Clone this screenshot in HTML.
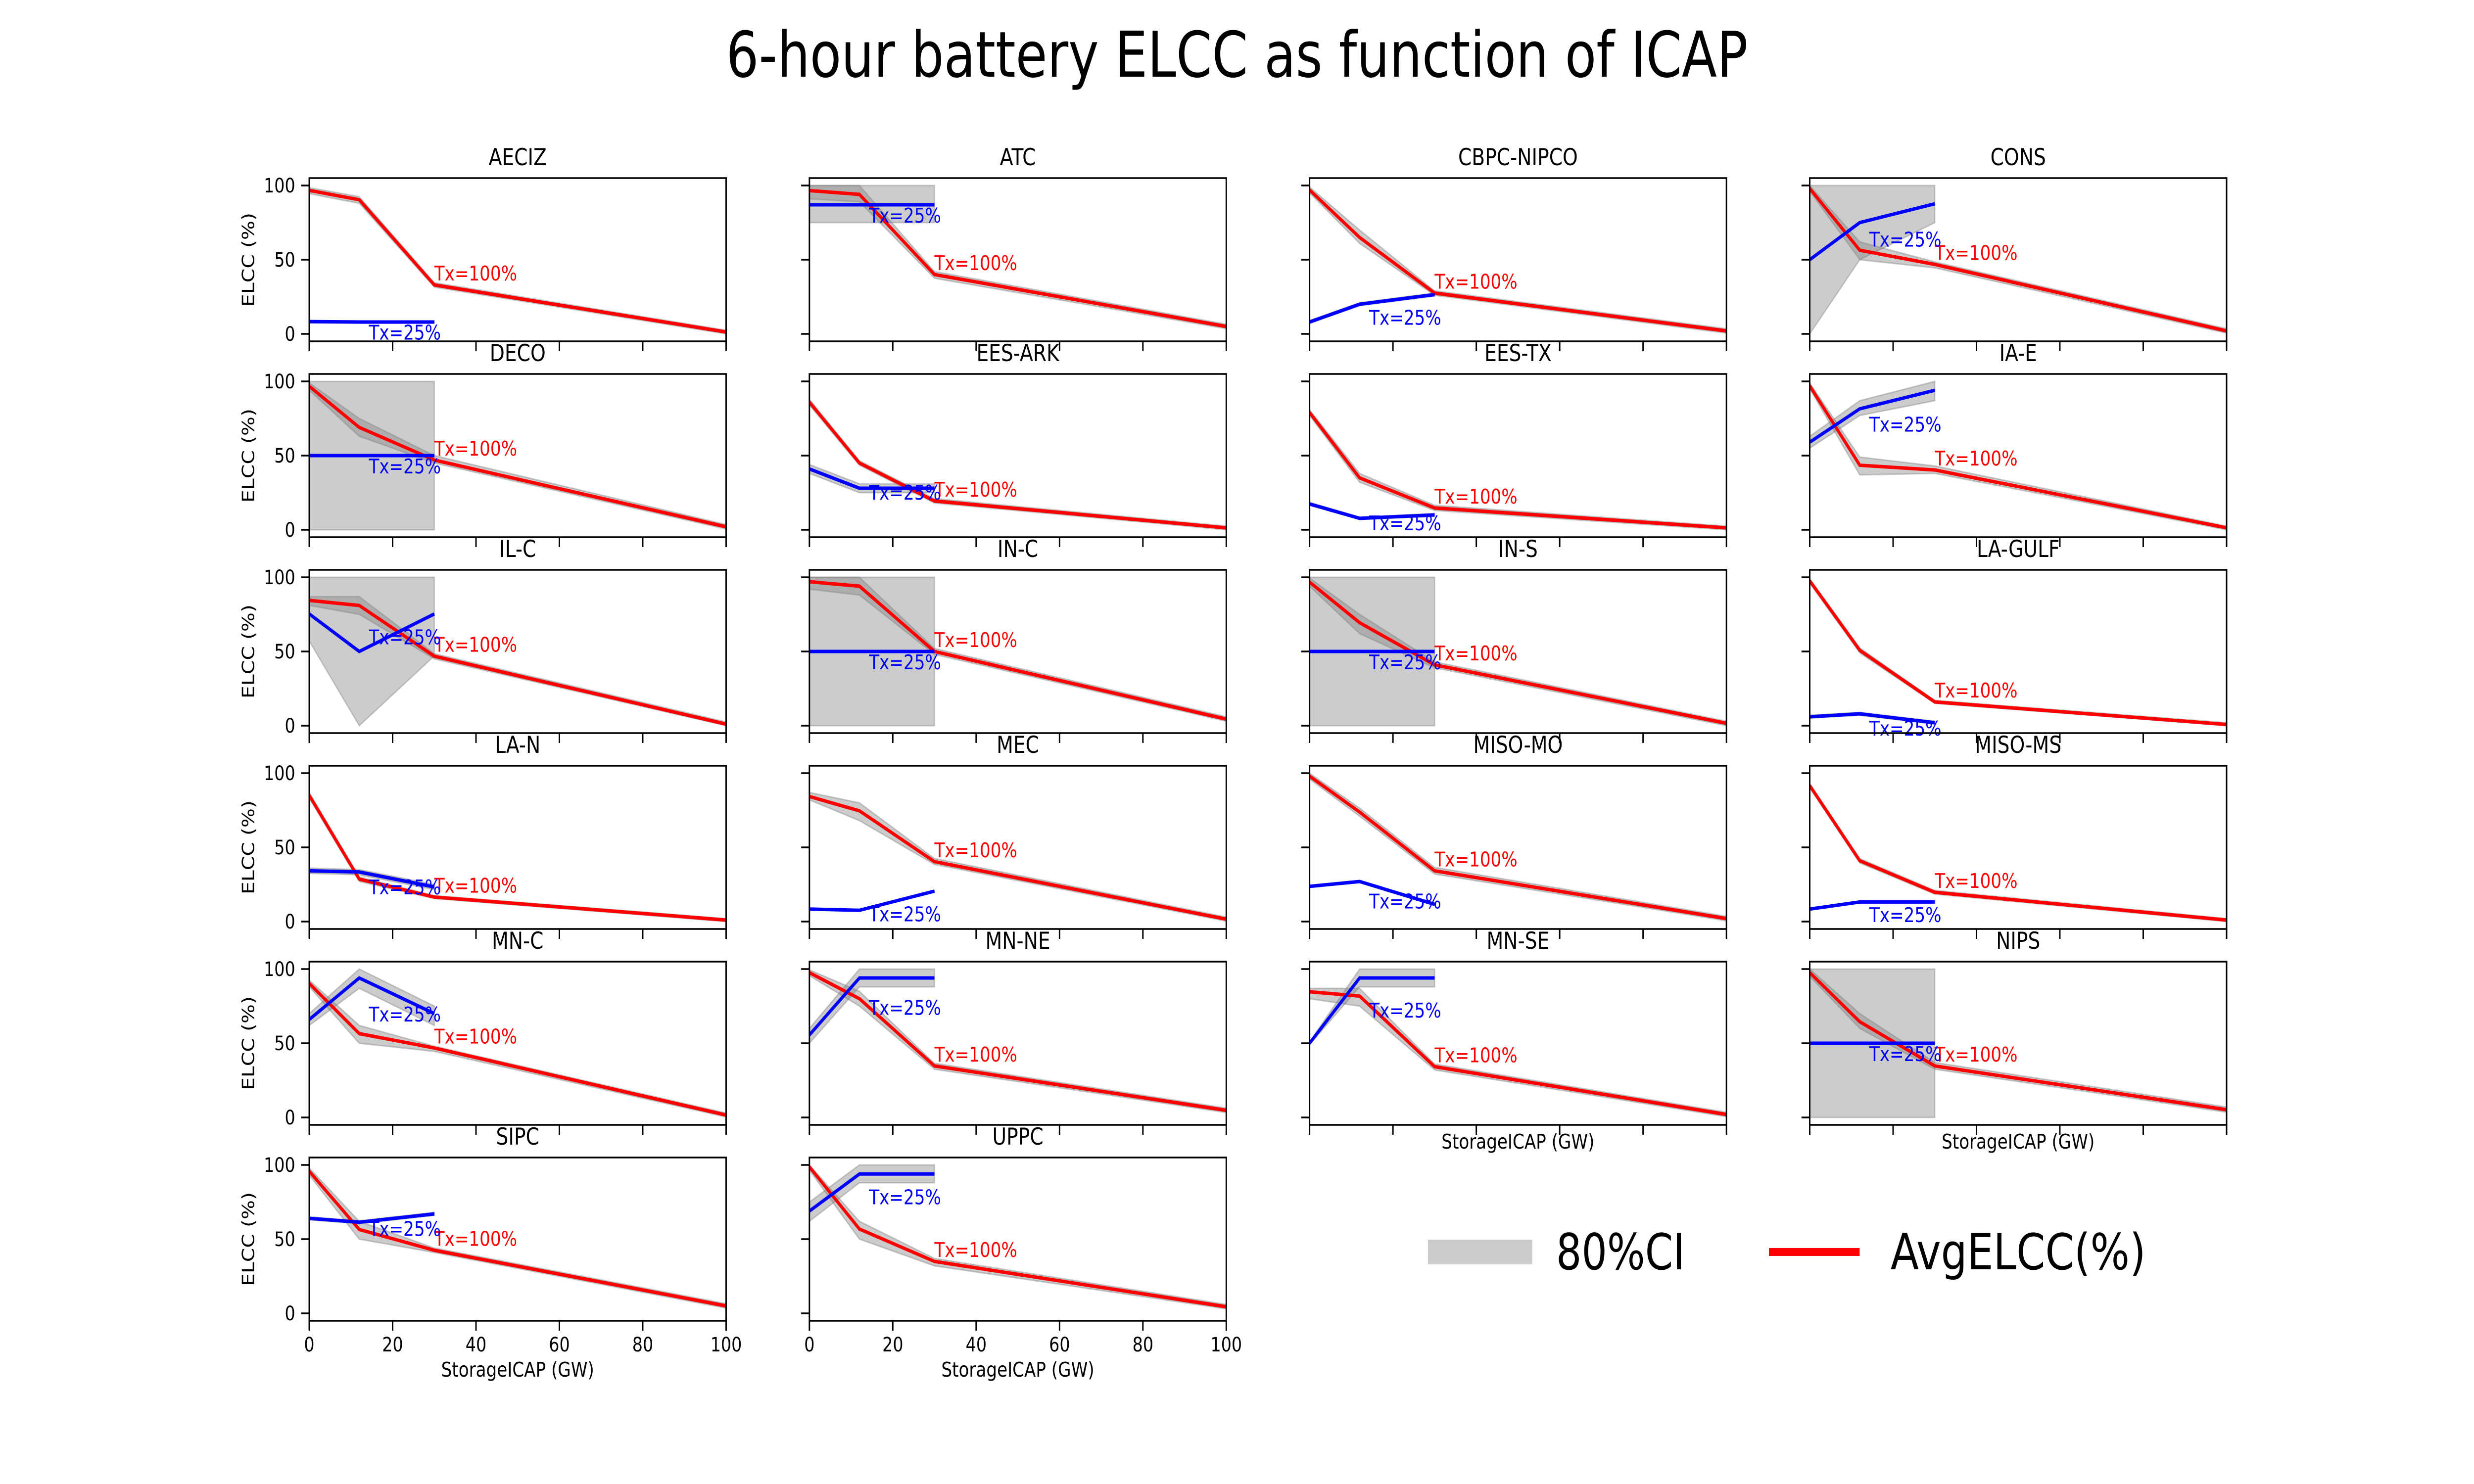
<!DOCTYPE html>
<html><head><meta charset="utf-8"><title>6-hour battery ELCC</title>
<style>html,body{margin:0;padding:0;background:#fff;width:100%;height:100%;overflow:hidden;}svg{display:block;position:absolute;left:0;top:0;width:100vw;height:100vh;font-family:"DejaVu Sans","Liberation Sans",sans-serif;}</style>
</head><body>
<svg id="fig" xmlns="http://www.w3.org/2000/svg" viewBox="0 0 6000 3000" preserveAspectRatio="none">
<rect width="6000" height="3000" fill="#fff"/>
<text x="3000" y="155" font-size="128" text-anchor="middle" textLength="2478" lengthAdjust="spacingAndGlyphs">6-hour battery ELCC as function of ICAP</text>
<g>
<rect x="3463" y="2506" width="253" height="50" fill="#cccccc"/>
<text x="3774" y="2566" font-size="101" textLength="312" lengthAdjust="spacingAndGlyphs">80%CI</text>
<line x1="4290" y1="2531" x2="4510" y2="2531" stroke="#ff0000" stroke-width="16"/>
<text x="4585" y="2566" font-size="101" textLength="619" lengthAdjust="spacingAndGlyphs">AvgELCC(%)</text>
</g>
</svg>
<script>
const regions = ["AECIZ","ATC","CBPC-NIPCO","CONS","DECO","EES-ARK","EES-TX","IA-E","IL-C","IN-C","IN-S","LA-GULF","LA-N","MEC","MISO-MO","MISO-MS","MN-C","MN-NE","MN-SE","NIPS","SIPC","UPPC"];
const xRed = [0,12,30,100];
const xBlue = [0,12,30];
const redAvg = [[96.7,90.4,33,1.3],[96.6,94,40,5],[97,65,27.5,2],[98,56.4,46.8,2],[96.7,69,47,2],[86,45,19.4,1.3],[79,35,14.7,1.3],[97,43.5,40.3,1.3],[84.4,81,46.8,1],[97,94,50,4.4],[96.8,69.4,41,1.6],[97.6,50.8,16,0.8],[85,28.6,16.5,1],[84.3,74.6,40.4,1.6],[98,73.8,34.2,2],[91.6,41,19.7,1],[90.3,56.5,46.8,1.6],[97.6,80,34.7,4.8],[84.7,81.8,34.2,2],[97.6,64.5,34.7,5.2],[95.7,56.5,42.5,5],[98.7,56.8,35,4.4]];
const redLo = [[94.5,88,31.5,0],[91,89,37.5,3.5],[95,61,26,0.5],[96,50,44.5,0.5],[94,63,45,0.5],[84,43.5,18,0],[77,32,13,0],[95,37,38,0],[81,75,45,0],[92,88,48,3],[94,62,39,0],[96,49,15,0],[83,27,15.5,0],[82,68,38.5,0.3],[96,71,32,0.5],[90,39.5,18.5,0],[88,50,44.5,0.3],[95.5,75,32.5,3.3],[80,75,32,0.5],[95,60,32.5,3.5],[93,50,41,3.5],[96.5,50,32,3]];
const redHi = [[98.5,92.5,34.5,2.5],[100,100,42,6.5],[99,70,29,3.5],[100,62,48.5,3.5],[99,75,50,3.5],[88,46.5,21,2.5],[81,38,16.5,2.5],[99,49,43,2.5],[87,87,48.5,2.5],[100,100,52,6],[99.5,75,43,3],[99,52.5,17,2],[87,30,17.5,2],[87,80,42.5,3],[100,76.5,36.5,3.5],[93,42.5,21,2],[92.5,62,48,3],[99.5,85,36.5,6.3],[87,87,36,3.5],[100,70,37,7],[98,62,44,6.5],[100,62,37,6]];
const blueAvg = [[8.3,8,8],[87,87,87],[8,20,26.5],[50,75,87.7],[50,50,50],[41,28,28],[17.4,7.7,10],[59,81.5,94],[75.3,50,75.3],[50,50,50],[50,50,50],[6,8,2],[34.2,33.4,23.3],[8.4,7.6,20.5],[23.7,27,11.6],[8.4,13.2,13.2],[66,94,70],[55.6,94,94],[50,94,94],[50,50,50],[64,61.4,67],[68.9,93.9,93.9]];
const blueLo = [[7.5,7.3,7.3],[75,75,75],[7,19,25.5],[0,50,75],[0,0,0],[38,25,25],[16.5,7,9],[55,77,87],[57,0,47],[0,0,0],[0,0,0],[5,7,1],[32.5,31.5,21.5],[7.8,7,20],[23,26.3,11],[7.8,12.6,12.6],[62,87,62],[50,88,88],[49,88,88],[0,0,0],[63,60.4,66],[62,88,88]];
const blueHi = [[9,8.7,8.7],[100,100,100],[9,21,27.5],[100,100,100],[100,100,100],[44,31,31],[18.5,8.5,11],[63,87,100],[100,100,100],[100,100,100],[100,100,100],[7,9,3],[36,35,25],[9,8.2,21],[24.4,27.7,12.2],[9,13.8,13.8],[70,100,75],[60,100,100],[51,100,100],[100,100,100],[65,62.4,68],[75,100,100]];
const xTicks = [0,20,40,60,80,100];
const yTicks = [0,50,100];

const NS = "http://www.w3.org/2000/svg";
const svg = document.getElementById('fig');
const AX_L = 750, AX_PITCH_X = 1213, AX_W = 1011, AX_T = 360, AX_PITCH_Y = 396, AX_H = 330;
const XMIN = 0, XMAX = 100, YMIN = -5, YMAX = 105;
function mk(tag, attrs, parent) {
  const e = document.createElementNS(NS, tag);
  for (const k in attrs) e.setAttribute(k, attrs[k]);
  parent.appendChild(e);
  return e;
}
function slug(s){return s.toLowerCase().replace(/[^a-z0-9]+/g,'-');}

regions.forEach((name, i) => {
  const row = Math.floor(i / 4), col = i % 4;
  const L = AX_L + col * AX_PITCH_X, T = AX_T + row * AX_PITCH_Y;
  const sx = v => L + (v - XMIN) / (XMAX - XMIN) * AX_W;
  const sy = v => T + (YMAX - v) / (YMAX - YMIN) * AX_H;
  const s = slug(name);
  const g = mk('g', {}, svg);
  
  
  const clipId = 'clip' + i;
  const cp = mk('clipPath', {id: clipId}, g);
  mk('rect', {x: L, y: T, width: AX_W, height: AX_H}, cp);
  const plot = mk('g', {'clip-path': 'url(#' + clipId + ')'}, g);

  function band(xs, lo, hi, nm) {
    let pts = xs.map((x, k) => sx(x) + ',' + sy(hi[k]));
    for (let k = xs.length - 1; k >= 0; k--) pts.push(sx(xs[k]) + ',' + sy(lo[k]));
    const p = mk('polygon', {points: pts.join(' '), fill: 'rgba(128,128,128,0.4)', stroke: 'rgba(128,128,128,0.4)', 'stroke-width': 3}, plot);
    
    
  }
  function line(xs, ys, color, nm) {
    const p = mk('polyline', {points: xs.map((x, k) => sx(x) + ',' + sy(ys[k])).join(' '), fill: 'none', stroke: color, 'stroke-width': 7, 'stroke-linejoin': 'round'}, plot);
    
    
  }
  band(xRed, redLo[i], redHi[i], 'ci-band-tx100');
  band(xBlue, blueLo[i], blueHi[i], 'ci-band-tx25');
  line(xRed, redAvg[i], '#ff0000', 'avg-elcc-tx100-line');
  line(xBlue, blueAvg[i], '#0000ff', 'avg-elcc-tx25-line');

  const t1 = mk('text', {x: sx(30), y: sy(redAvg[i][2] + 3), 'font-size': 41, fill: '#ff0000'}, g);
  
  
  t1.textContent = 'Tx=100%';
  const bm = (blueAvg[i][0] + blueAvg[i][1] + blueAvg[i][2]) / 3;
  const t2 = mk('text', {x: sx(14.3), y: sy(bm - 12), 'font-size': 41, fill: '#0000ff'}, g);
  
  
  t2.textContent = 'Tx=25%';

  const fr = mk('rect', {x: L, y: T, width: AX_W, height: AX_H, fill: 'none', stroke: '#000', 'stroke-width': 3.5}, g);
  
  

  const lastInCol = (i + 4 >= regions.length);
  xTicks.forEach(v => {
    const tk = mk('line', {x1: sx(v), x2: sx(v), y1: T + AX_H, y2: T + AX_H + 20, stroke: '#000', 'stroke-width': 3.5}, g);
    
    
    if (row === 5) {
      const tl = mk('text', {x: sx(v), y: T + AX_H + 62, 'font-size': 40, 'text-anchor': 'middle'}, g);
      
      
      tl.textContent = v;
    }
  });
  yTicks.forEach(v => {
    const tk = mk('line', {x1: L - 20, x2: L, y1: sy(v), y2: sy(v), stroke: '#000', 'stroke-width': 3.5}, g);
    
    
    if (col === 0) {
      const tl = mk('text', {x: L - 34, y: sy(v) + 14, 'font-size': 40, 'text-anchor': 'end'}, g);
      
      
      tl.textContent = v;
    }
  });
  const tt = mk('text', {x: L + AX_W / 2, y: T - 26, 'font-size': 47, 'text-anchor': 'middle'}, g);
  
  
  tt.textContent = name;
  if (col === 0) {
    const cy = T + AX_H / 2;
    const yl = mk('text', {x: 616, y: cy, 'font-size': 41, 'text-anchor': 'middle', transform: 'rotate(-90 616 ' + cy + ')'}, g);
    
    
    yl.textContent = 'ELCC (%)';
  }
  if (lastInCol) {
    const by = row === 5 ? T + AX_H + 113 : T + AX_H + 48;
    const xl = mk('text', {x: L + AX_W / 2, y: by, 'font-size': 41, 'text-anchor': 'middle'}, g);
    
    
    xl.textContent = 'StorageICAP (GW)';
  }
});
</script>
</body></html>
